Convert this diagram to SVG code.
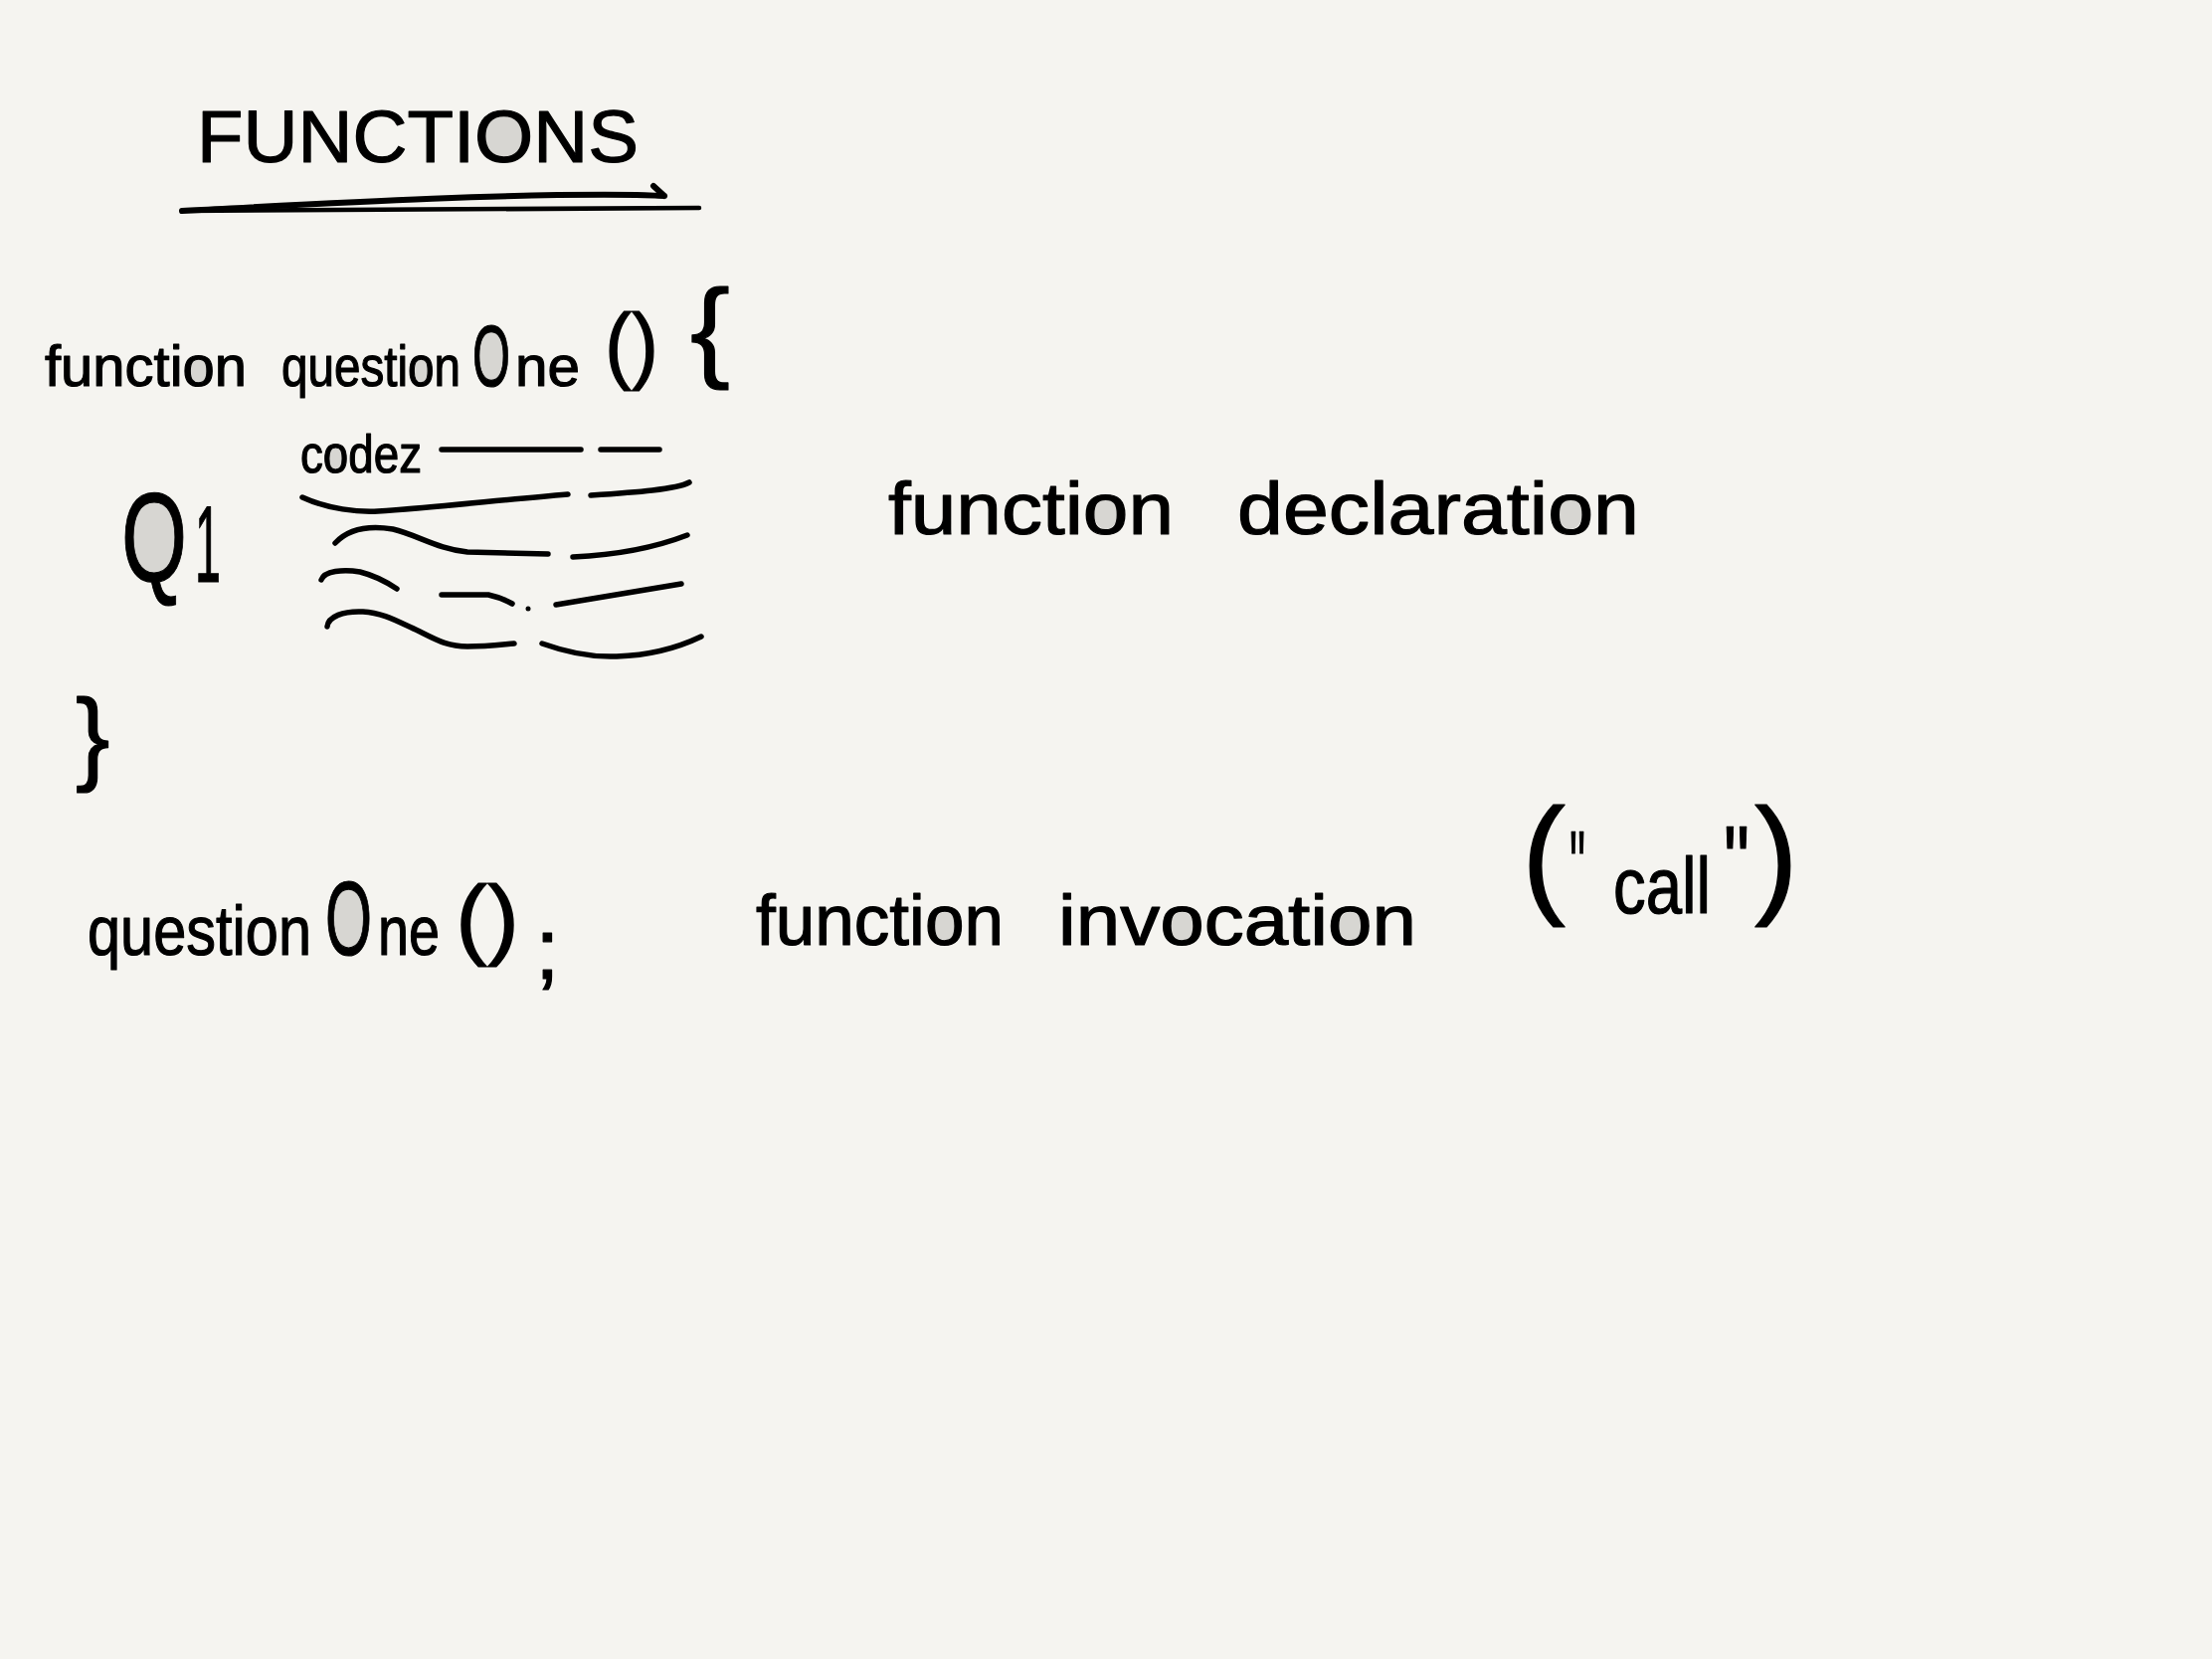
<svg xmlns="http://www.w3.org/2000/svg" width="2224" height="1668" viewBox="0 0 2224 1668">
<style>
.t{font-family:"Liberation Sans",Arial,sans-serif;fill:#000;stroke:#000;stroke-width:1.2;stroke-linejoin:round}
.ink{fill:none;stroke:#000;stroke-width:5.5;stroke-linecap:round;stroke-linejoin:round}
.fillo{fill:#d7d6d2;stroke:none}
</style>
<rect width="2224" height="1668" fill="#f5f4f0"/>

<g id="title">
  <ellipse class="fillo" cx="507" cy="136" rx="21" ry="24"/>
  <text class="t" x="198" y="163" font-size="75" textLength="444" lengthAdjust="spacingAndGlyphs">FUNCTIONS</text>
  <path class="ink" style="stroke-width:6" d="M183 212 C300 206,500 194,640 196 C652 196,662 197,668 197 M657 187 L668 197"/>
  <path class="ink" style="stroke-width:4.5" d="M183 212 L703 209"/>
</g>

<g id="declaration-code">
  <ellipse class="fillo" cx="495" cy="357" rx="13" ry="26"/>
  <ellipse class="fillo" cx="200" cy="373" rx="9" ry="11.5"/>
  <ellipse class="fillo" cx="423" cy="373" rx="7.5" ry="11.5"/>
  <text class="t" y="388" font-size="58"><tspan x="45" textLength="203" lengthAdjust="spacingAndGlyphs">function</tspan> <tspan x="283" textLength="180" lengthAdjust="spacingAndGlyphs">question</tspan><tspan x="475" font-size="87" textLength="38" lengthAdjust="spacingAndGlyphs">O</tspan><tspan x="518" textLength="65" lengthAdjust="spacingAndGlyphs">ne</tspan><tspan x="608" y="375" font-size="86" textLength="54" lengthAdjust="spacingAndGlyphs">()</tspan> <tspan x="694" y="369" font-size="112" textLength="40" lengthAdjust="spacingAndGlyphs">{</tspan></text>
</g>

<g id="body">
  <ellipse class="fillo" cx="337.6" cy="461" rx="7" ry="10.5"/>
  <text class="t" x="302" y="475" font-size="54" textLength="122" lengthAdjust="spacingAndGlyphs">codez</text>
  <path class="ink" d="M444 452 L584 452 M604 452 L663 452"/>
  <path class="ink" d="M304 500 C330 512,360 515,380 514 C430 511,500 503,571 497 M594 498 C640 495,680 492,693 485"/>
  <path class="ink" d="M337 546 C350 532,370 528,395 532 C420 538,440 552,470 555 L551 557 M576 560 C620 558,660 550,691 538"/>
  <path class="ink" d="M323 583 C326 574,345 572,362 575 C378 579,390 586,399 592 M444 598 L491 598 C500 600,508 603,515 607 M559 608 L685 587"/>
  <circle cx="531" cy="612" r="2.5" fill="#000"/>
  <path class="ink" d="M329 630 C330 620,345 614,365 615 C385 616,400 625,420 634 C440 644,450 650,470 650 C490 650,505 648,517 647 M545 647 C570 656,595 661,620 660 C650 659,680 652,705 640"/>
</g>

<g id="q1">
  <ellipse class="fillo" cx="156" cy="539" rx="23" ry="38"/>
  <text class="t" y="585"><tspan x="122" font-size="128" textLength="66" lengthAdjust="spacingAndGlyphs">Q</tspan><tspan x="196" font-size="110" textLength="26" lengthAdjust="spacingAndGlyphs">1</tspan></text>
</g>

<g id="closing-brace">
  <text class="t" x="76" y="775" font-size="103">}</text>
</g>

<g id="invocation-code">
  <ellipse class="fillo" cx="352" cy="922" rx="16" ry="32"/>
  <text class="t" y="960" font-size="71"><tspan x="88" textLength="225" lengthAdjust="spacingAndGlyphs">question</tspan><tspan x="327" font-size="106" textLength="47" lengthAdjust="spacingAndGlyphs">O</tspan><tspan x="380" textLength="62" lengthAdjust="spacingAndGlyphs">ne</tspan><tspan x="458" y="953" font-size="89" textLength="64" lengthAdjust="spacingAndGlyphs">()</tspan><tspan x="538" y="984" font-size="88">;</tspan></text>
</g>

<g id="label-declaration">
  <ellipse class="fillo" cx="1112" cy="517" rx="12" ry="15"/>
  <ellipse class="fillo" cx="1579" cy="517" rx="12" ry="15"/>
  <text class="t" y="537" font-size="75"><tspan x="893" textLength="287" lengthAdjust="spacingAndGlyphs">function</tspan> <tspan x="1244" textLength="404" lengthAdjust="spacingAndGlyphs">declaration</tspan></text>
</g>

<g id="label-invocation">
  <ellipse class="fillo" cx="950" cy="931" rx="11" ry="14"/>
  <ellipse class="fillo" cx="1188.5" cy="931" rx="12" ry="14"/>
  <ellipse class="fillo" cx="1357.5" cy="931" rx="12" ry="14"/>
  <text class="t" y="950" font-size="72"><tspan x="760" textLength="249" lengthAdjust="spacingAndGlyphs">function</tspan> <tspan x="1064" textLength="360" lengthAdjust="spacingAndGlyphs">invocation</tspan></text>
  <text class="t" y="905" font-size="80"><tspan x="1530" font-size="132">(</tspan><tspan x="1578" font-size="100" textLength="16" lengthAdjust="spacingAndGlyphs">"</tspan><tspan x="1622" y="918" textLength="98" lengthAdjust="spacingAndGlyphs">call</tspan><tspan x="1733" y="900" font-size="100" textLength="26" lengthAdjust="spacingAndGlyphs">"</tspan><tspan x="1764" y="905" font-size="132">)</tspan></text>
</g>
</svg>
